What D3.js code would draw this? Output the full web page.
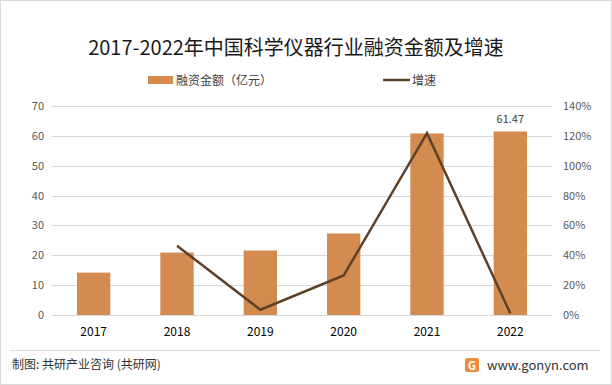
<!DOCTYPE html>
<html>
<head>
<meta charset="utf-8">
<script src="https://cdn.jsdelivr.net/npm/d3@7"></script>
<style>
body{margin:0;background:#fff}
text{font-family:"Microsoft YaHei","Noto Sans CJK SC",sans-serif}
</style>
</head>
<body>
<script>
// data
var years=["2017","2018","2019","2020","2021","2022"]
var amount=[14.2,20.9,21.6,27.3,60.8,61.47]
var growth=[null,46.4,3.5,26.5,121.8,1.1]
var leftTicks=[0,10,20,30,40,50,60,70]
var rightTicks=[0,20,40,60,80,100,120,140]

var W=612,H=385
var m={left:52,right:60,top:106,bottom:70}
var barColor="#d38b4f",lineColor="#5e4129"

var svg=d3.select("body").append("svg").attr("width",W).attr("height",H)

svg.append("rect").attr("x",0.5).attr("y",0.5).attr("width",W-1).attr("height",H-1)
	.attr("fill","#fff").attr("stroke","#d9d9d9")

var x=d3.scaleBand().domain(years).range([52,552]).paddingInner(0.6).paddingOuter(0.3)
var y=d3.scaleLinear().domain([0,70]).range([315,106])
var y2=d3.scaleLinear().domain([0,140]).range([315,106])

// grid
svg.append("g").selectAll("line").data(leftTicks).join("line")
	.attr("x1",52).attr("x2",552)
	.attr("y1",d=>Math.round(y(d))+0.5).attr("y2",d=>Math.round(y(d))+0.5)
	.attr("stroke","#d9d9d9").attr("stroke-width",1)

// left axis
var la=svg.append("g").attr("transform","translate(44,0)")
	.call(d3.axisLeft(y).tickValues(leftTicks).tickSize(0).tickPadding(0))
la.select(".domain").remove()
la.selectAll("text").attr("font-size",11).attr("fill","#595959").attr("font-family","Calibri,Carlito,'Liberation Sans',sans-serif")

// right axis
var ra=svg.append("g").attr("transform","translate(563,0)")
	.call(d3.axisRight(y2).tickValues(rightTicks).tickSize(0).tickPadding(0).tickFormat(d=>d+"%"))
ra.select(".domain").remove()
ra.selectAll("text").attr("font-size",11).attr("fill","#595959").attr("font-family","Calibri,Carlito,'Liberation Sans',sans-serif")

// bottom axis
var ba=svg.append("g").attr("transform","translate(0,315)")
	.call(d3.axisBottom(x).tickSize(0).tickPadding(12))
ba.select(".domain").remove()
ba.selectAll("text").attr("font-size",12).attr("fill","#000").attr("font-family","Calibri,Carlito,'Liberation Sans',sans-serif")

// bars
svg.append("g").selectAll("rect").data(amount).join("rect")
	.attr("x",(d,i)=>x(years[i])).attr("width",x.bandwidth())
	.attr("y",d=>y(d)).attr("height",d=>y(0)-y(d))
	.attr("fill",barColor)

// data label on last bar
svg.append("text").attr("x",x("2022")+x.bandwidth()/2).attr("y",y(61.47)-8)
	.attr("text-anchor","middle").attr("font-size",11).attr("fill","#404040")
	.attr("font-family","Calibri,Carlito,'Liberation Sans',sans-serif")
	.text("61.47")

// line
var pts=growth.map((g,i)=>({x:x(years[i])+x.bandwidth()/2,v:g})).filter(d=>d.v!=null)
svg.append("path").datum(pts)
	.attr("d",d3.line().x(d=>d.x).y(d=>y2(d.v)))
	.attr("fill","none").attr("stroke",lineColor).attr("stroke-width",2.5)

// title
svg.append("text").attr("x",296).attr("y",55).attr("text-anchor","middle")
	.attr("font-size",20).attr("fill","#1a1a1a").text("2017-2022年中国科学仪器行业融资金额及增速")

// legend
svg.append("rect").attr("x",148).attr("y",76).attr("width",25).attr("height",8).attr("fill",barColor)
svg.append("text").attr("x",176).attr("y",85).attr("font-size",12).attr("fill","#404040").text("融资金额（亿元）")
svg.append("line").attr("x1",383).attr("x2",410).attr("y1",80).attr("y2",80).attr("stroke",lineColor).attr("stroke-width",2.5)
svg.append("text").attr("x",412).attr("y",85).attr("font-size",12).attr("fill","#404040").text("增速")

// footer
svg.append("line").attr("x1",10).attr("x2",600).attr("y1",350.5).attr("y2",350.5).attr("stroke","#d9d9d9")
svg.append("text").attr("x",12).attr("y",369).attr("font-size",12).attr("fill","#333").text("制图: 共研产业咨询 (共研网)")
var logo=svg.append("g").attr("transform","translate(465,358)")
logo.append("rect").attr("width",14).attr("height",14).attr("rx",2).attr("fill","#f08a3c")
logo.append("text").attr("x",7).attr("y",11.5).attr("text-anchor","middle").attr("font-size",11).attr("font-weight","bold").attr("fill","#fff").text("G")
svg.append("text").attr("x",487).attr("y",370).attr("font-size",13).attr("fill","#333")
	.attr("font-family","'Liberation Sans',Arial,sans-serif").text("www.gonyn.com")
</script>
</body>
</html>
